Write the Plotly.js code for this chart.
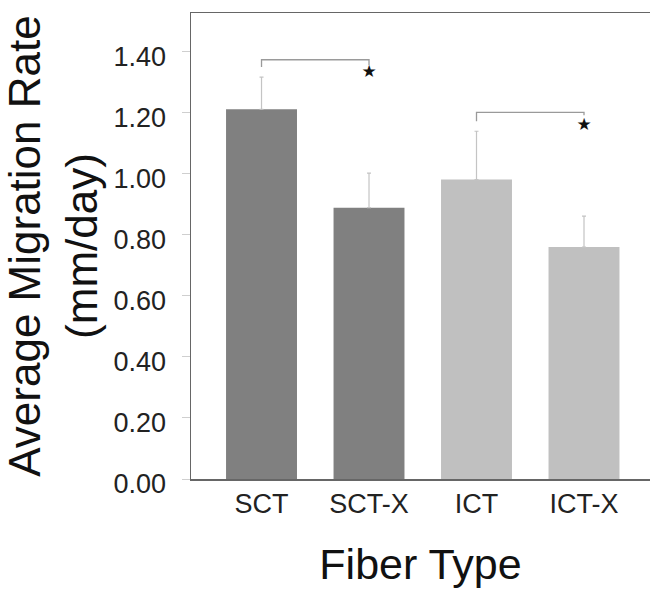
<!DOCTYPE html>
<html>
<head>
<meta charset="utf-8">
<script src="https://cdn.plot.ly/plotly-3.0.1.min.js"></script>
<style>html,body{margin:0;padding:0;background:#fff;}#chart{width:650px;height:590px;}</style>
</head>
<body>
<div id="chart"></div>
<script>
// Data
const categories = ['SCT', 'SCT-X', 'ICT', 'ICT-X'];
const means = [1.21, 0.888, 0.98, 0.759];
const errUpper = [0.105, 0.113, 0.158, 0.101];
const barColors = ['#808080', '#808080', '#c0c0c0', '#c0c0c0'];
const yTicks = [0, 0.2, 0.4, 0.6, 0.8, 1.0, 1.2, 1.4];
const yTickLabels = ['0.00', '0.20', '0.40', '0.60', '0.80', '1.00', '1.20', '1.40'];
// Significance brackets: [from, to], level, leg bottoms, star level
const bracketFrom = ['SCT', 'ICT'];
const bracketTo = ['SCT-X', 'ICT-X'];
const bracketTop = [1.372, 1.200];
const bracketLeftEnd = [1.348, 1.171];
const bracketRightEnd = [1.355, 1.19];
const starLevel = [1.329, 1.157];
const starText = ['\u2605', '\u2605'];

const FONT = 'Arial, "Liberation Sans", sans-serif';

const traces = [{
  type: 'bar',
  x: categories,
  y: means,
  marker: {color: barColors, line: {width: 0}},
  error_y: {
    type: 'data', symmetric: false,
    array: errUpper, arrayminus: errUpper.map(() => 0),
    color: '#c4c4c4', thickness: 1.2, width: 2
  },
  hoverinfo: 'skip',
  showlegend: false
}];

for (let i = 0; i < bracketFrom.length; i++) {
  traces.push({
    type: 'scatter', mode: 'lines',
    x: [bracketFrom[i], bracketFrom[i], bracketTo[i], bracketTo[i]],
    y: [bracketLeftEnd[i], bracketTop[i], bracketTop[i], bracketRightEnd[i]],
    line: {color: '#9a9a9a', width: 1.3},
    hoverinfo: 'skip', showlegend: false
  });
}
traces.push({
  type: 'scatter', mode: 'text',
  x: bracketTo, y: starLevel, text: starText,
  textposition: 'middle center',
  textfont: {family: '"DejaVu Sans", sans-serif', size: 17, color: '#111'},
  hoverinfo: 'skip', showlegend: false
});

const layout = {
  width: 650, height: 590,
  margin: {l: 191, r: 0, t: 13, b: 111},
  paper_bgcolor: '#fff', plot_bgcolor: '#fff',
  bargap: 0.34,
  font: {family: FONT, color: '#222'},
  xaxis: {
    type: 'category',
    range: [-0.656, 3.614],
    showline: true, linecolor: '#666', linewidth: 1.5, mirror: true,
    ticks: '',
    tickfont: {family: FONT, size: 27, color: '#222'},
    showgrid: false, zeroline: false,
    title: {text: 'Fiber Type', font: {family: FONT, size: 43, color: '#111'}, standoff: 31}
  },
  yaxis: {
    range: [0, 1.525],
    tickvals: yTicks, ticktext: yTickLabels,
    showline: true, linecolor: '#666', linewidth: 1.5,
    ticks: 'outside', ticklen: 8, tickcolor: '#cfcfcf', tickwidth: 1,
    ticklabelstandoff: 10,
    ticklabelshift: 5,
    tickfont: {family: FONT, size: 27, color: '#222'},
    showgrid: false, zeroline: false,
    title: {text: 'Average Migration Rate<br>(mm/day)', font: {family: FONT, size: 44, color: '#111'}, standoff: 18}
  }
};

Plotly.newPlot('chart', traces, layout, {displayModeBar: false, staticPlot: true});
</script>
</body>
</html>
